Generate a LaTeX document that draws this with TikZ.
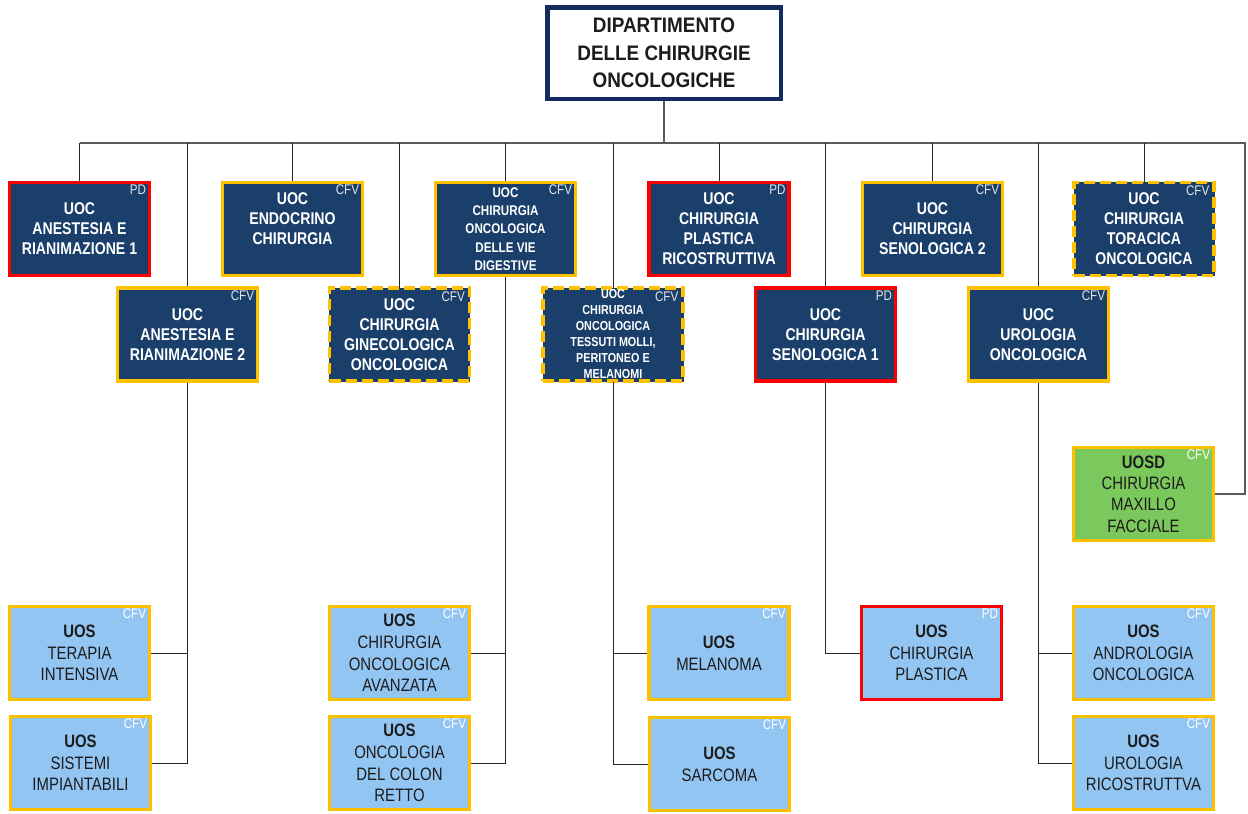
\documentclass[tikz,border=0pt]{standalone}
\usepackage{fontspec}
\setmainfont{Liberation Sans}
\newfontfamily\narrowfont{Liberation Sans}[FakeStretch=0.83]
\newfontfamily\headfont{Liberation Sans}[FakeStretch=0.9]
\begin{document}
\begin{tikzpicture}[x=1pt,y=-1pt]
\definecolor{navy}{HTML}{1A3F6B}
\definecolor{deptnavy}{HTML}{142B60}
\definecolor{gold}{HTML}{FFC000}
\definecolor{alert}{HTML}{FF0000}
\definecolor{skyfill}{HTML}{93C5F3}
\definecolor{leaf}{HTML}{7BC95C}
\definecolor{ink}{HTML}{1C1C1C}
\definecolor{tagdk}{HTML}{E4E4E4}
\definecolor{wire}{HTML}{5A5A5A}
\tikzset{
  box/.style={rectangle, minimum width=140pt, minimum height=93pt, inner sep=0pt,
              align=center, line width=3.5pt},
  darkbox/.style={box, fill=navy, text=white, font=\narrowfont\bfseries\fontsize{17}{20}\selectfont},
  lightbox/.style={box, fill=skyfill, text=ink, font=\narrowfont\fontsize{18}{21.7}\selectfont},
  greenbox/.style={box, fill=leaf, text=ink, font=\narrowfont\fontsize{18}{21.4}\selectfont},
  cfv/.style={draw=gold},
  pd/.style={draw=alert},
  dashedcfv/.style={draw=navy, line width=1pt,
              postaction={draw=gold, line width=3.5pt, dash pattern=on 11pt off 5pt}},
  smallfont/.style={font=\narrowfont\bfseries\fontsize{14}{18.3}\selectfont},
  tinyfont/.style={font=\narrowfont\bfseries\fontsize{13}{16}\selectfont},
  tagdark/.style={font=\narrowfont\fontsize{14}{14}\selectfont, text=tagdk, inner sep=0pt},
  taglight/.style={font=\narrowfont\fontsize{14}{14}\selectfont, text=white, inner sep=0pt},
  busline/.style={draw=wire, line width=1.5pt},
  drop/.style={draw=black!85, line width=1pt},
  deptbox/.style={rectangle, draw=deptnavy, line width=4.5pt, fill=white, text=ink,
              minimum width=233.5pt, minimum height=91.5pt, inner sep=0pt, align=center,
              font=\headfont\bfseries\fontsize{21}{27.5}\selectfont}
}
% #1 name, #2 box style, #3 position, #4 tag style, #5 tag, #6 text
\newcommand\orgunit[6]{%
  \node[#2] (#1) at (#3) {#6};
  \node[#4, anchor=north east] (#1-tag) at ([xshift=-5pt,yshift=-4pt]#1.north east) {#5};
}
\useasboundingbox (0,0) rectangle (1248,814);

% department head
\node[deptbox] (dept) at (664,53) {DIPARTIMENTO\\DELLE CHIRURGIE\\ONCOLOGICHE};

% complex units, upper row
\orgunit{ane1}{darkbox,pd}{79.5,229}{tagdark}{PD}{UOC\\ANESTESIA E\\RIANIMAZIONE 1}
\orgunit{endo}{darkbox,cfv}{292.5,229}{tagdark}{CFV}{UOC\\ENDOCRINO\\CHIRURGIA\\\mbox{}}
\orgunit{dig}{darkbox,cfv,smallfont}{505.5,229}{tagdark}{CFV}{UOC\\CHIRURGIA\\ONCOLOGICA\\DELLE VIE\\DIGESTIVE}
\orgunit{plr}{darkbox,pd}{719,229}{tagdark}{PD}{UOC\\CHIRURGIA\\PLASTICA\\RICOSTRUTTIVA}
\orgunit{sen2}{darkbox,cfv}{932.5,229}{tagdark}{CFV}{UOC\\CHIRURGIA\\SENOLOGICA 2}
\orgunit{tor}{darkbox,dashedcfv}{1144,229}{tagdark}{CFV}{UOC\\CHIRURGIA\\TORACICA\\ONCOLOGICA}

% complex units, lower row
\orgunit{ane2}{darkbox,cfv}{187.5,334.5}{tagdark}{CFV}{UOC\\ANESTESIA E\\RIANIMAZIONE 2}
\orgunit{gin}{darkbox,dashedcfv}{399.5,334.5}{tagdark}{CFV}{UOC\\CHIRURGIA\\GINECOLOGICA\\ONCOLOGICA}
\orgunit{tes}{darkbox,dashedcfv,tinyfont}{613,334.5}{tagdark}{CFV}{UOC\\CHIRURGIA\\ONCOLOGICA\\TESSUTI MOLLI,\\PERITONEO E\\MELANOMI}
\orgunit{sen1}{darkbox,pd}{825.5,334.5}{tagdark}{PD}{UOC\\CHIRURGIA\\SENOLOGICA 1}
\orgunit{uro}{darkbox,cfv}{1038.5,334.5}{tagdark}{CFV}{UOC\\UROLOGIA\\ONCOLOGICA}

% departmental simple unit
\orgunit{maxf}{greenbox,cfv}{1143.5,494}{taglight}{CFV}{\textbf{UOSD}\\CHIRURGIA\\MAXILLO\\FACCIALE}

% simple units
\orgunit{ter}{lightbox,cfv}{79.5,653}{taglight}{CFV}{\textbf{UOS}\\TERAPIA\\INTENSIVA}
\orgunit{sist}{lightbox,cfv}{80.5,763}{taglight}{CFV}{\textbf{UOS}\\SISTEMI\\IMPIANTABILI}
\orgunit{avz}{lightbox,cfv}{399.5,653}{taglight}{CFV}{\textbf{UOS}\\CHIRURGIA\\ONCOLOGICA\\AVANZATA}
\orgunit{colon}{lightbox,cfv}{399.5,763}{taglight}{CFV}{\textbf{UOS}\\ONCOLOGIA\\DEL COLON\\RETTO}
\orgunit{mel}{lightbox,cfv}{719,653}{taglight}{CFV}{\textbf{UOS}\\MELANOMA}
\orgunit{sarc}{lightbox,cfv}{719.5,764}{taglight}{CFV}{\textbf{UOS}\\SARCOMA}
\orgunit{plas}{lightbox,pd}{931.5,653}{taglight}{PD}{\textbf{UOS}\\CHIRURGIA\\PLASTICA}
\orgunit{andr}{lightbox,cfv}{1143.5,653}{taglight}{CFV}{\textbf{UOS}\\ANDROLOGIA\\ONCOLOGICA}
\orgunit{urr}{lightbox,cfv}{1143.5,763}{taglight}{CFV}{\textbf{UOS}\\UROLOGIA\\RICOSTRUTTVA}

% main bus
\coordinate (bus) at (664,143);
\coordinate (busR) at (1245,143);
\draw[busline] (dept.south) -- (bus);
\draw[busline] (ane1.north |- bus) -- (busR) |- (maxf.east);

% drops from the bus
\foreach \u in {ane1,endo,dig,plr,sen2,tor,ane2,gin,tes,sen1,uro}
  \draw[drop] (\u.north) -- (\u.north |- bus);

% branches to the simple units
\draw[drop] (ane2.south) |- (sist.east);
\draw[drop] (ter.east) -- (ter.east -| ane2.south);
\draw[drop] (dig.south) |- (colon.east);
\draw[drop] (avz.east) -- (avz.east -| dig.south);
\draw[drop] (tes.south) |- (sarc.west);
\draw[drop] (mel.west) -- (mel.west -| tes.south);
\draw[drop] (sen1.south) |- (plas.west);
\draw[drop] (uro.south) |- (urr.west);
\draw[drop] (andr.west) -- (andr.west -| uro.south);
\end{tikzpicture}
\end{document}
